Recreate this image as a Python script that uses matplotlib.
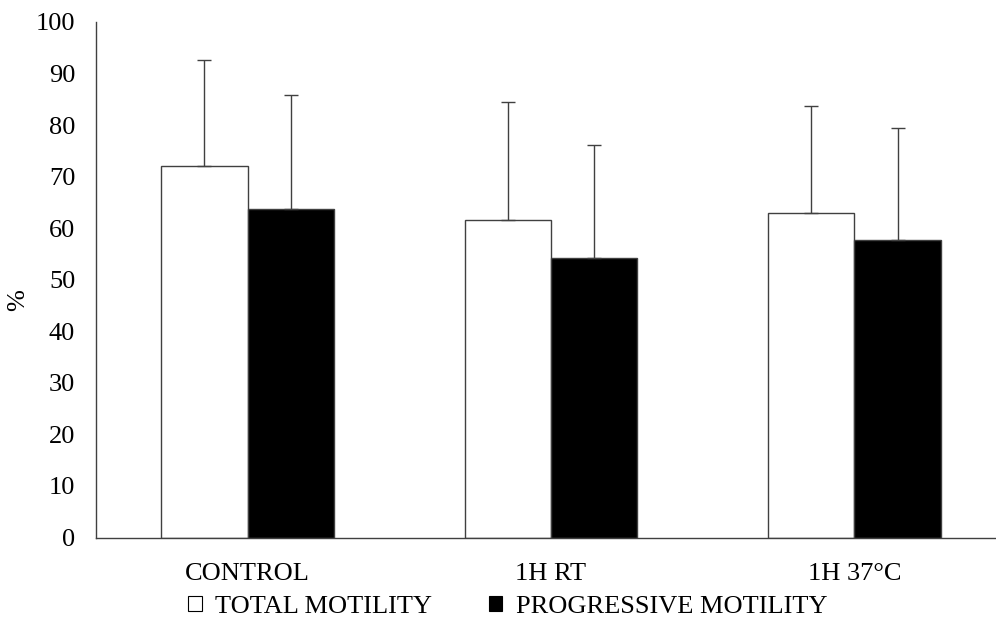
import numpy as np
import matplotlib
matplotlib.use('Agg')
import matplotlib.pyplot as plt
from matplotlib.patches import Patch

plt.rcParams['font.family'] = ['Liberation Serif', 'DejaVu Serif']

groups = ['CONTROL', '1H RT', '1H 37°C']
total_motility = [72.0, 61.5, 63.0]
total_sd = [20.6, 22.9, 20.7]
progressive_motility = [63.8, 54.3, 57.8]
progressive_sd = [22.1, 21.9, 21.6]
series_names = ['TOTAL MOTILITY', 'PROGRESSIVE MOTILITY']

FS = 19
EDGE = '#404040'

fig = plt.figure(figsize=(9.96, 6.19), dpi=100)
ax = fig.add_axes([96 / 996, 1 - 537.5 / 619, 910 / 996, 515.5 / 619])

x = np.arange(len(groups))
w = 0.285
err_kw = dict(ecolor=EDGE, elinewidth=1.0, capsize=4.7, capthick=1.0)
ax.bar(x - w / 2, total_motility, w, color='white', edgecolor=EDGE, lw=1.0,
       yerr=[np.zeros(3), total_sd], error_kw=err_kw)
ax.bar(x + w / 2, progressive_motility, w, color='black', edgecolor=EDGE, lw=1.0,
       yerr=[np.zeros(3), progressive_sd], error_kw=err_kw)

ax.set_xlim(-0.5, 2.5)
ax.set_ylim(0, 100)
ax.set_yticks(np.arange(0, 101, 10))
ax.set_xticks(x)
ax.set_xticklabels(groups)
ax.tick_params(axis='both', length=0, labelsize=FS, colors='black')
ax.tick_params(axis='y', pad=15)
ax.tick_params(axis='x', pad=18)
for s in ['top', 'right']:
    ax.spines[s].set_visible(False)
for s in ['left', 'bottom']:
    ax.spines[s].set_color(EDGE)
    ax.spines[s].set_linewidth(1.0)

fig.text(18 / 996, 1 - 300 / 619, '%', rotation=90, fontsize=FS, ha='center', va='center')

handles = [Patch(facecolor='white', edgecolor='black', lw=0.8),
           Patch(facecolor='black', edgecolor='black', lw=0.8)]
fig.legend(handles, series_names, loc='center left', bbox_to_anchor=(188 / 996, 1 - 607 / 619),
           ncol=2, frameon=False, fontsize=FS, handlelength=0.52, handleheight=0.52,
           handletextpad=0.5, columnspacing=2.15, borderpad=0, borderaxespad=0)

fig.savefig('out.png', dpi=100)
